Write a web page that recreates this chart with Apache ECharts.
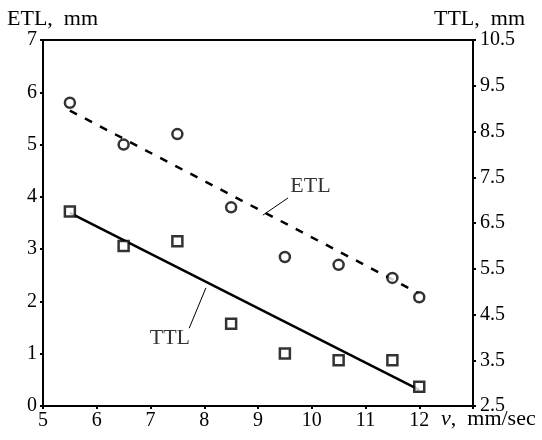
<!DOCTYPE html>
<html>
<head>
<meta charset="utf-8">
<script src="https://cdn.jsdelivr.net/npm/echarts@6/dist/echarts.min.js"></script>
<style>html,body{margin:0;padding:0;background:#fff}#c{width:542px;height:440px}</style>
</head>
<body>
<div id="c"></div>
<script>
var speeds = [5.5, 6.5, 7.5, 8.5, 9.5, 10.5, 11.5, 12];
var etlValues = [5.8, 5.0, 5.2, 3.8, 2.85, 2.7, 2.45, 2.08];
var ttlValues = [6.75, 6.0, 6.1, 4.3, 3.65, 3.5, 3.5, 2.92];
var etlFit = [[5.5, 5.65], [12, 2.15]];
var ttlFit = [[5.5, 6.72], [12, 2.85]];
var etlLeader = [[9.09, 3.65], [9.56, 3.98]];
var ttlLeader = [[8.03, 5.08], [7.72, 4.2]];
var etlLabelPos = [9.6, 4.2];
var ttlLabelPos = [7.36, 3.99];
var xTicks = [5, 6, 7, 8, 9, 10, 11, 12];

var FONT = 'Liberation Serif';
var FS = 20;
var NFS = 22;
function pairs(xs, ys) { return xs.map(function (x, i) { return [x, ys[i]]; }); }

var chart = echarts.init(document.getElementById('c'), null, {renderer: 'canvas'});
chart.setOption({
  animation: false,
  backgroundColor: '#fff',
  textStyle: {fontFamily: FONT, color: '#000'},
  grid: {left: 43, right: 69, top: 40, bottom: 34, show: true, borderColor: '#000', borderWidth: 2, backgroundColor: 'transparent'},
  xAxis: {
    type: 'value', min: 5, max: 13, interval: 1,
    axisLine: {lineStyle: {color: '#000', width: 2}},
    axisTick: {show: true, length: 3, lineStyle: {color: '#000', width: 2}},
    splitLine: {show: false},
    axisLabel: {color: '#000', fontFamily: FONT, fontSize: FS, margin: 5,
      formatter: function (v) { return xTicks.indexOf(v) >= 0 ? String(v) : ''; }}
  },
  yAxis: [{
    type: 'value', min: 0, max: 7, interval: 1, position: 'left',
    name: 'ETL,  mm', nameLocation: 'end', nameGap: 9,
    nameTextStyle: {color: '#000', fontFamily: FONT, fontSize: NFS, align: 'left', padding: [0, 0, 0, -36]},
    axisLine: {show: true, lineStyle: {color: '#000', width: 2}},
    axisTick: {show: true, length: 3, lineStyle: {color: '#000', width: 2}},
    splitLine: {show: false},
    axisLabel: {color: '#000', fontFamily: FONT, fontSize: FS, margin: 6}
  }, {
    type: 'value', min: 2.5, max: 10.5, interval: 1, position: 'right',
    name: 'TTL,  mm', nameLocation: 'end', nameGap: 9,
    nameTextStyle: {color: '#000', fontFamily: FONT, fontSize: NFS, align: 'right', padding: [0, -52, 0, 0]},
    axisLine: {show: true, lineStyle: {color: '#000', width: 2}},
    axisTick: {show: true, length: 3, lineStyle: {color: '#000', width: 2}},
    splitLine: {show: false},
    axisLabel: {color: '#000', fontFamily: FONT, fontSize: FS, margin: 7,
      formatter: function (v) { return v.toFixed(1); }}
  }],
  graphic: [{
    type: 'text', left: 441, top: 408,
    style: {text: '{i|v},  mm/sec', font: NFS + 'px "' + FONT + '"', fill: '#000',
      rich: {i: {fontStyle: 'italic', fontFamily: FONT, fontSize: NFS, fill: '#000'}}}
  }],
  series: [{
    type: 'line', data: etlFit, yAxisIndex: 0, symbol: 'none',
    lineStyle: {color: '#000', width: 2.5, type: [8, 9]}, z: 2
  }, {
    type: 'line', data: ttlFit, yAxisIndex: 1, symbol: 'none',
    lineStyle: {color: '#000', width: 2.5}, z: 2
  }, {
    type: 'line', data: etlLeader, yAxisIndex: 0, symbol: 'none',
    lineStyle: {color: '#000', width: 1}, z: 2
  }, {
    type: 'line', data: ttlLeader, yAxisIndex: 1, symbol: 'none',
    lineStyle: {color: '#000', width: 1}, z: 2
  }, {
    type: 'scatter', data: pairs(speeds, etlValues), yAxisIndex: 0,
    symbol: 'circle', symbolSize: 10,
    itemStyle: {color: '#fff', borderColor: '#000', borderWidth: 2.5}, z: 3
  }, {
    type: 'scatter', data: pairs(speeds, ttlValues), yAxisIndex: 1,
    symbol: 'rect', symbolSize: 10,
    itemStyle: {color: '#fff', borderColor: '#000', borderWidth: 2.5}, z: 3
  }, {
    type: 'scatter', data: [etlLabelPos], yAxisIndex: 0, symbolSize: 0,
    label: {show: true, position: 'right', distance: 0, formatter: 'ETL', color: '#000', fontFamily: FONT, fontSize: NFS}
  }, {
    type: 'scatter', data: [ttlLabelPos], yAxisIndex: 1, symbolSize: 0,
    label: {show: true, position: 'inside', formatter: 'TTL', color: '#000', fontFamily: FONT, fontSize: NFS}
  }]
});
</script>
</body>
</html>
